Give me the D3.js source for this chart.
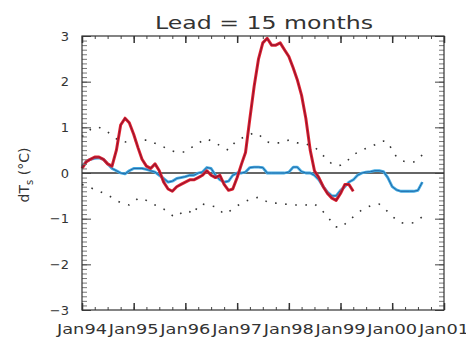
<!DOCTYPE html>
<html>
<head>
<meta charset="utf-8">
<script src="https://cdn.jsdelivr.net/npm/d3@7"></script>
<style>
body { margin: 0; background: #fff; }
text { font-family: "DejaVu Sans", sans-serif; fill: #333; }
</style>
</head>
<body>
<script>
var width = 466, height = 340;
var plotLeft = 82, plotRight = 444, plotTop = 36, plotBottom = 310;

var title = "Lead = 15 months";
var yTicks = [-3, -2, -1, 0, 1, 2, 3];

// monthly values starting Jan94
var red = [0.1, 0.25, 0.3, 0.35, 0.35, 0.3, 0.2, 0.15, 0.5, 1.05, 1.2, 1.1, 0.85, 0.55, 0.3, 0.15,
    0.1, 0.2, 0.05, -0.2, -0.35, -0.4, -0.3, -0.25, -0.2, -0.15, -0.15, -0.1, -0.05, 0.05, -0.05, -0.1,
    -0.05, -0.25, -0.38, -0.35, -0.1, 0.2, 0.45, 1.2, 1.9, 2.5, 2.85, 2.95, 2.8, 2.8, 2.85, 2.7,
    2.55, 2.3, 2.05, 1.7, 1.2, 0.5, 0.05, -0.1, -0.3, -0.45, -0.55, -0.6, -0.45, -0.25, -0.25, -0.4];

var blue = [0.15, 0.25, 0.3, 0.32, 0.33, 0.3, 0.2, 0.1, 0.05, 0.0, -0.02, 0.05, 0.1, 0.1, 0.1, 0.08,
    0.05, 0.02, -0.05, -0.12, -0.2, -0.18, -0.12, -0.1, -0.08, -0.05, -0.05, 0.0, 0.02, 0.12, 0.1, -0.05,
    -0.15, -0.2, -0.18, -0.05, 0.0, 0.0, 0.02, 0.12, 0.13, 0.13, 0.12, 0.0, 0.0, 0.0, 0.0, 0.0,
    0.02, 0.13, 0.13, 0.03, 0.0, 0.0, -0.05, -0.15, -0.3, -0.42, -0.5, -0.5, -0.38, -0.3, -0.2, -0.15,
    -0.05, 0.0, 0.02, 0.03, 0.05, 0.05, 0.03, -0.1, -0.3, -0.37, -0.4, -0.4, -0.4, -0.4, -0.38, -0.2];

var upper = [0.8, 0.85, 0.95, 1.0, 1.0, 0.95, 0.9, 0.82, 0.75, 0.68, 0.68, 0.7, 0.7, 0.72, 0.72, 0.72,
    0.7, 0.65, 0.6, 0.57, 0.52, 0.48, 0.46, 0.46, 0.46, 0.52, 0.6, 0.66, 0.7, 0.75, 0.7, 0.66,
    0.6, 0.55, 0.5, 0.62, 0.72, 0.76, 0.8, 0.84, 0.88, 0.85, 0.76, 0.68, 0.66, 0.66, 0.66, 0.7,
    0.72, 0.68, 0.66, 0.66, 0.64, 0.6, 0.57, 0.48, 0.38, 0.28, 0.2, 0.16, 0.17, 0.22, 0.3, 0.4,
    0.45, 0.5, 0.54, 0.57, 0.62, 0.68, 0.7, 0.68, 0.5, 0.35, 0.28, 0.25, 0.24, 0.24, 0.3, 0.4];

var lower = [-0.25, -0.28, -0.32, -0.36, -0.4, -0.44, -0.48, -0.54, -0.6, -0.65, -0.68, -0.7, -0.65, -0.55, -0.57, -0.6,
    -0.65, -0.7, -0.75, -0.79, -0.86, -0.93, -0.96, -0.88, -0.82, -0.85, -0.9, -0.7, -0.68, -0.7, -0.72, -0.74,
    -0.82, -0.9, -0.85, -0.79, -0.72, -0.66, -0.62, -0.58, -0.55, -0.53, -0.58, -0.63, -0.66, -0.66, -0.67, -0.68,
    -0.69, -0.7, -0.7, -0.7, -0.7, -0.69, -0.68, -0.75, -0.85, -0.96, -1.07, -1.18, -1.2, -1.12, -1.04, -0.96,
    -0.88, -0.81, -0.76, -0.72, -0.7, -0.68, -0.75, -0.85, -0.95, -1.02, -1.09, -1.1, -1.1, -1.09, -1.03, -0.96];

var svg = d3.select("body").append("svg")
    .attr("width", width)
    .attr("height", height);

var x = d3.scaleTime()
    .domain([new Date(1994, 0, 1), new Date(2001, 0, 1)])
    .range([plotLeft, plotRight]);

var y = d3.scaleLinear()
    .domain([-3, 3])
    .range([plotBottom, plotTop]);

function month(i) { return new Date(1994, i, 1); }

function lineOf(vals) {
    return d3.line()
        .x(function(d, i) { return x(month(i)); })
        .y(function(d) { return y(d); })(vals);
}

// envelopes (sparse dots)
[upper, lower].forEach(function(v) {
    svg.append("path")
        .attr("d", lineOf(v))
        .attr("fill", "none")
        .attr("stroke", "#333")
        .attr("stroke-width", 1.6)
        .attr("stroke-dasharray", "1.6 8.5");
});

// zero line
svg.append("line")
    .attr("x1", plotLeft).attr("x2", plotRight)
    .attr("y1", y(0)).attr("y2", y(0))
    .attr("stroke", "#333")
    .attr("stroke-width", 1.5);

// blue
svg.append("path").attr("d", lineOf(blue))
    .attr("fill", "none").attr("stroke", "#45ace2").attr("stroke-width", 2.8)
    .attr("stroke-linejoin", "round");
svg.append("path").attr("d", lineOf(blue))
    .attr("fill", "none").attr("stroke", "#2068a8").attr("stroke-width", 1);

// red
svg.append("path").attr("d", lineOf(red))
    .attr("fill", "none").attr("stroke", "#e2232f").attr("stroke-width", 3)
    .attr("stroke-linejoin", "round");
svg.append("path").attr("d", lineOf(red))
    .attr("fill", "none").attr("stroke", "#921432").attr("stroke-width", 1.1);

// axes: ticks
var yMinor = d3.range(-3, 3.001, 0.1);

svg.append("g").attr("transform", "translate(" + plotLeft + ",0)")
    .call(d3.axisLeft(y).tickValues(yMinor).tickSize(-5).tickFormat(""))
    .call(function(g) { g.selectAll("line").attr("stroke", "#777"); g.select(".domain").remove(); });
svg.append("g").attr("transform", "translate(" + plotRight + ",0)")
    .call(d3.axisRight(y).tickValues(yMinor).tickSize(-5).tickFormat(""))
    .call(function(g) { g.selectAll("line").attr("stroke", "#777"); g.select(".domain").remove(); });

svg.append("g").attr("transform", "translate(" + plotLeft + ",0)")
    .call(d3.axisLeft(y).tickValues(yTicks).tickSize(-9).tickPadding(13)
        .tickFormat(function(d) { return d < 0 ? "\u2212" + Math.abs(d) : d; }))
    .call(function(g) {
        g.select(".domain").remove();
        g.selectAll("line").attr("stroke", "#444");
        g.selectAll("text").attr("font-size", 13).attr("fill", "#333")
            .style("font-family", "DejaVu Sans");
    });
svg.append("g").attr("transform", "translate(" + plotRight + ",0)")
    .call(d3.axisRight(y).tickValues(yTicks).tickSize(-9).tickFormat(""))
    .call(function(g) { g.select(".domain").remove(); g.selectAll("line").attr("stroke", "#444"); });

var xMinor = d3.timeMonth.every(3).range(new Date(1994, 0, 1), new Date(2001, 0, 2));
var xMajor = d3.timeYear.range(new Date(1994, 0, 1), new Date(2001, 0, 2));

[[plotBottom, d3.axisBottom], [plotTop, d3.axisTop]].forEach(function(a) {
    svg.append("g").attr("transform", "translate(0," + a[0] + ")")
        .call(a[1](x).tickValues(xMinor).tickSize(-3).tickFormat(""))
        .call(function(g) { g.select(".domain").remove(); g.selectAll("line").attr("stroke", "#444"); });
    svg.append("g").attr("transform", "translate(0," + a[0] + ")")
        .call(a[1](x).tickValues(xMajor).tickSize(-7).tickFormat(""))
        .call(function(g) { g.select(".domain").remove(); g.selectAll("line").attr("stroke", "#333").attr("stroke-width", 1.5); });
});

// x labels
svg.append("g").selectAll("text")
    .data(xMajor)
    .join("text")
    .attr("x", function(d) { return x(d); })
    .attr("y", 334)
    .attr("text-anchor", "middle")
    .attr("font-size", 14)
    .attr("textLength", 50)
    .attr("lengthAdjust", "spacingAndGlyphs")
    .text(d3.timeFormat("Jan%y"));

// frame
svg.append("rect")
    .attr("x", plotLeft).attr("y", plotTop)
    .attr("width", plotRight - plotLeft).attr("height", plotBottom - plotTop)
    .attr("fill", "none")
    .attr("stroke", "#333")
    .attr("stroke-width", 1.2);

// title
svg.append("text")
    .attr("x", (plotLeft + plotRight) / 2 + 1)
    .attr("y", 29)
    .attr("text-anchor", "middle")
    .attr("font-size", 18)
    .attr("textLength", 218)
    .attr("lengthAdjust", "spacingAndGlyphs")
    .text(title);

// y label
var yl = svg.append("text")
    .attr("transform", "translate(29," + (y(0) + 2) + ") rotate(-90)")
    .attr("text-anchor", "middle")
    .attr("font-size", 14);
yl.append("tspan").text("dT");
yl.append("tspan").attr("font-size", 10).attr("dy", 4).text("s");
yl.append("tspan").attr("dy", -4).text(" (\u00b0C)");
</script>
</body>
</html>
